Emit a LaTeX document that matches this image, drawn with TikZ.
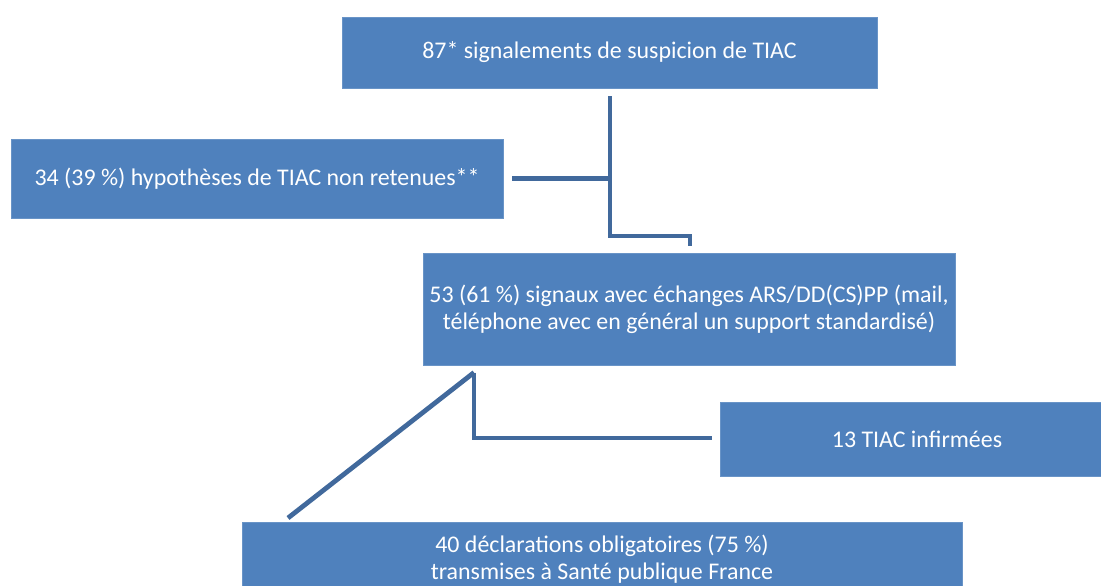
\documentclass[tikz,border=0pt]{standalone}
\usepackage{fontspec}
\setmainfont{Carlito}
\usetikzlibrary{positioning}
\definecolor{boxblue}{HTML}{4F81BD}
\definecolor{linkblue}{HTML}{41699C}

\begin{document}
\begin{tikzpicture}
[x=0.025cm,y=-0.025cm]
\tikzset{
	box/.style = {rectangle, fill=boxblue, draw=boxblue!85!white, text=white, align=center, inner sep=0, font=\fontsize{17}{19}\selectfont},
	link/.style = {draw=linkblue, line width=3.4pt}
}
\useasboundingbox (0,0) rectangle (1101,586);
\clip (0,0) rectangle (1101,586);

\node(sig) [box, minimum width=13.375cm, minimum height=1.775cm] at (609.5,52.5) {87* signalements de suspicion de TIAC};
\node(nonret) [box, minimum width=12.3cm, minimum height=1.975cm] at (257,178.5) {34 (39 \%) hypothèses de TIAC non retenues**};
\node(ech) [box, minimum width=13.3cm, minimum height=2.8cm] at (689,309) {53 (61 \%) signaux avec échanges ARS/DD(CS)PP (mail,\\ téléphone avec en général un support standardisé)};
\node(inf) [box, minimum width=9.85cm, minimum height=1.85cm] at (917,439) {13 TIAC infirmées};
\node(do) [box, minimum width=18cm, minimum height=1.85cm] at (602,559) {40 déclarations obligatoires (75 \%)\\ transmises à Santé publique France};

% branches below the first box
\coordinate (s1) at ([yshift=-0.2cm]sig.south -| 610,0);
\coordinate (s2) at (610,236);
\coordinate (s3) at (690,236);
\draw [link] (s1) -- (s2) -- (s3) -- ([yshift=0.18cm]s3 |- ech.north);
\draw [link] ([xshift=0.22cm]nonret.east) -- (s1 |- nonret.east);

% branches below the exchanges box
\coordinate (e1) at ([yshift=-0.18cm]ech.south -| 474,0);
\coordinate (e2) at (474,438);
\draw [link] (e1) -- (e2) -- ([xshift=-0.2cm]inf.west |- e2);
\draw [link] (e1) -- (288,518);
\end{tikzpicture}
\end{document}
